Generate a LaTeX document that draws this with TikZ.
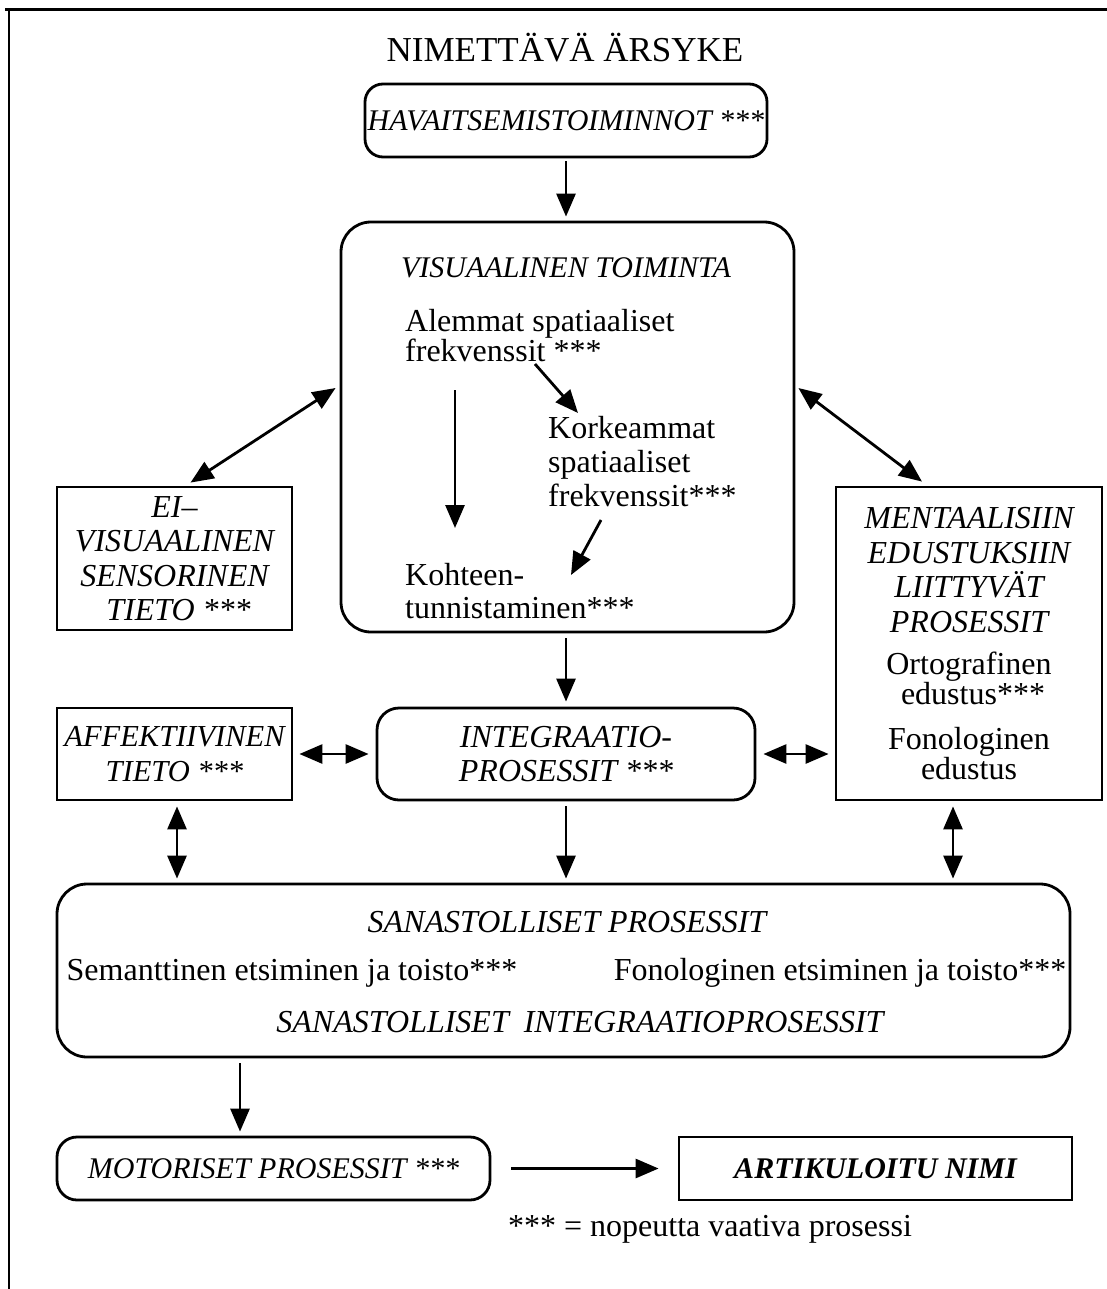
\documentclass[tikz,border=0pt]{standalone}
\usepackage{fontspec}
\setmainfont{Liberation Serif}
\usetikzlibrary{arrows.meta,calc}
\begin{document}
\begin{tikzpicture}[x=1pt,y=-1pt,
  every node/.style={font=\fontsize{32}{34}\selectfont, inner sep=0pt},
  box/.style={draw, line width=2.8pt},
  rbox/.style={box, rounded corners=#1},
  rbox/.default=20pt,
  ital/.style={font=\fontsize{30}{34.5}\selectfont\itshape},
  sideital/.style={font=\fontsize{32}{34.5}\selectfont\itshape},
  tip/.tip={Triangle[length=23pt,width=19pt]},
  arr/.style={line width=2.8pt, -tip},
  darr/.style={line width=2.8pt, tip-tip},
]
\useasboundingbox (0,0) rectangle (1107,1289);

% outer frame (top and left edges)
\draw[line width=3pt] (5,10) -- (1107,10);
\draw[line width=2.2pt] (9,10) -- (9,1289);

% title and perception stage
\node[font=\fontsize{35}{38}\selectfont] (title) at (565,48) {NIMETTÄVÄ ÄRSYKE};
\node[rbox=18pt, minimum width=402pt, minimum height=73pt, ital] (havait) at (566,120.5)
  {HAVAITSEMISTOIMINNOT ***};

% visual processing box with its inner stages
\node[rbox=30pt, minimum width=453pt, minimum height=410pt] (vis) at (567.5,427) {};
\node[ital] (vistitle) at (566,268) {VISUAALINEN TOIMINTA};
\node[anchor=west, align=left, font=\fontsize{32}{30}\selectfont] (alemmat) at (405,336)
  {Alemmat spatiaaliset\\frekvenssit ***};
\node[anchor=west, align=left, font=\fontsize{32}{34}\selectfont] (korkeammat) at (548,462)
  {Korkeammat\\spatiaaliset\\frekvenssit***};
\node[anchor=west, align=left, font=\fontsize{32}{33}\selectfont] (kohteen) at (405,591)
  {Kohteen-\\tunnistaminen***};
\coordinate (a1s) at (455,390);
\coordinate (a1e) at (455,528);
\coordinate (a2s) at (535,364);
\coordinate (a2e) at (578,413);
\coordinate (a3s) at (601,520);
\coordinate (a3e) at (571,575);
\draw[arr] (a1s) -- (a1e);
\draw[arr] (a2s) -- (a2e);
\draw[arr] (a3s) -- (a3e);

% side boxes
\node[box, minimum width=235pt, minimum height=143pt, align=center, sideital] (ei) at (174.5,558.5)
  {EI–\\VISUAALINEN\\SENSORINEN\\\ TIETO ***};
\node[box, minimum width=266pt, minimum height=313pt] (ment) at (969,643.5) {};
\node[sideital, align=center] (menttitle) at (969,570)
  {MENTAALISIIN\\EDUSTUKSIIN\\LIITTYVÄT\\PROSESSIT};
\node[align=center, font=\fontsize{32}{30}\selectfont] (ortog) at (969,678)
  {Ortografinen\\\ edustus***};
\node[align=center, font=\fontsize{32}{30}\selectfont] (fonol) at (969,754)
  {Fonologinen\\edustus};

% integration row
\node[box, minimum width=235pt, minimum height=92pt, align=center, font=\fontsize{30.5}{34.5}\selectfont\itshape] (aff) at (174.5,754)
  {AFFEKTIIVINEN\\TIETO ***};
\node[rbox=22pt, minimum width=378pt, minimum height=92pt, align=center, sideital] (integ) at (566,754)
  {INTEGRAATIO-\\PROSESSIT ***};

% lexical processes
\node[rbox=30pt, minimum width=1013pt, minimum height=173pt] (lex) at (563.5,970.5) {};
\node[sideital] (lextitle) at (567,922) {SANASTOLLISET PROSESSIT};
\node (seman) at (292,973) {Semanttinen etsiminen ja toisto***};
\node (fonet) at (840,973) {Fonologinen etsiminen ja toisto***};
\node[sideital] (lexint) at (580,1022) {SANASTOLLISET\hspace{15pt}INTEGRAATIOPROSESSIT};

% output stage
\node[rbox=20pt, minimum width=433pt, minimum height=63pt, ital] (motor) at (273.5,1168.5)
  {MOTORISET PROSESSIT ***};
\node[box, minimum width=393pt, minimum height=63pt, font=\fontsize{30}{34}\selectfont\bfseries\itshape] (artik) at (875.5,1168.5)
  {ARTIKULOITU NIMI};
\node (note) at (710,1229) {*** = nopeutta vaativa prosessi};

% connector end points offset from the box centres
\coordinate (affb) at ($(aff.south)+(2.5,0)$);
\coordinate (mentb) at ($(ment.south)+(-16,0)$);
\coordinate (motin) at ($(motor.north)+(-33.5,0)$);
\coordinate (eit) at ($(ei.north)+(16,-3)$);
\coordinate (visl) at ($(vis.west)+(-4,-39)$);
\coordinate (visr) at ($(vis.east)+(3,-39)$);
\coordinate (mentt) at ($(ment.north)+(-47,-4)$);

% connectors
\draw[arr, shorten <=3pt, shorten >=4pt] (havait.south) -- (havait.south |- vis.north);
\draw[darr] (eit) -- (visl);
\draw[darr] (visr) -- (mentt);
\draw[arr, shorten <=5pt, shorten >=5pt] (integ.north |- vis.south) -- (integ.north);
\draw[darr, shorten <=6pt, shorten >=7pt] (aff.east) -- (integ.west);
\draw[darr, shorten <=7pt, shorten >=6pt] (integ.east) -- (integ.east -| ment.west);
\draw[darr, shorten <=5pt, shorten >=4pt] (affb) -- (affb |- lex.north);
\draw[arr, shorten <=5pt, shorten >=4pt] (integ.south) -- (integ.south |- lex.north);
\draw[darr, shorten <=5pt, shorten >=4pt] (mentb) -- (mentb |- lex.north);
\draw[arr, shorten <=5pt, shorten >=4pt] (motin |- lex.south) -- (motin);
\draw[arr, shorten <=20pt, shorten >=19pt] (motor.east) -- (artik.west);
\end{tikzpicture}
\end{document}
